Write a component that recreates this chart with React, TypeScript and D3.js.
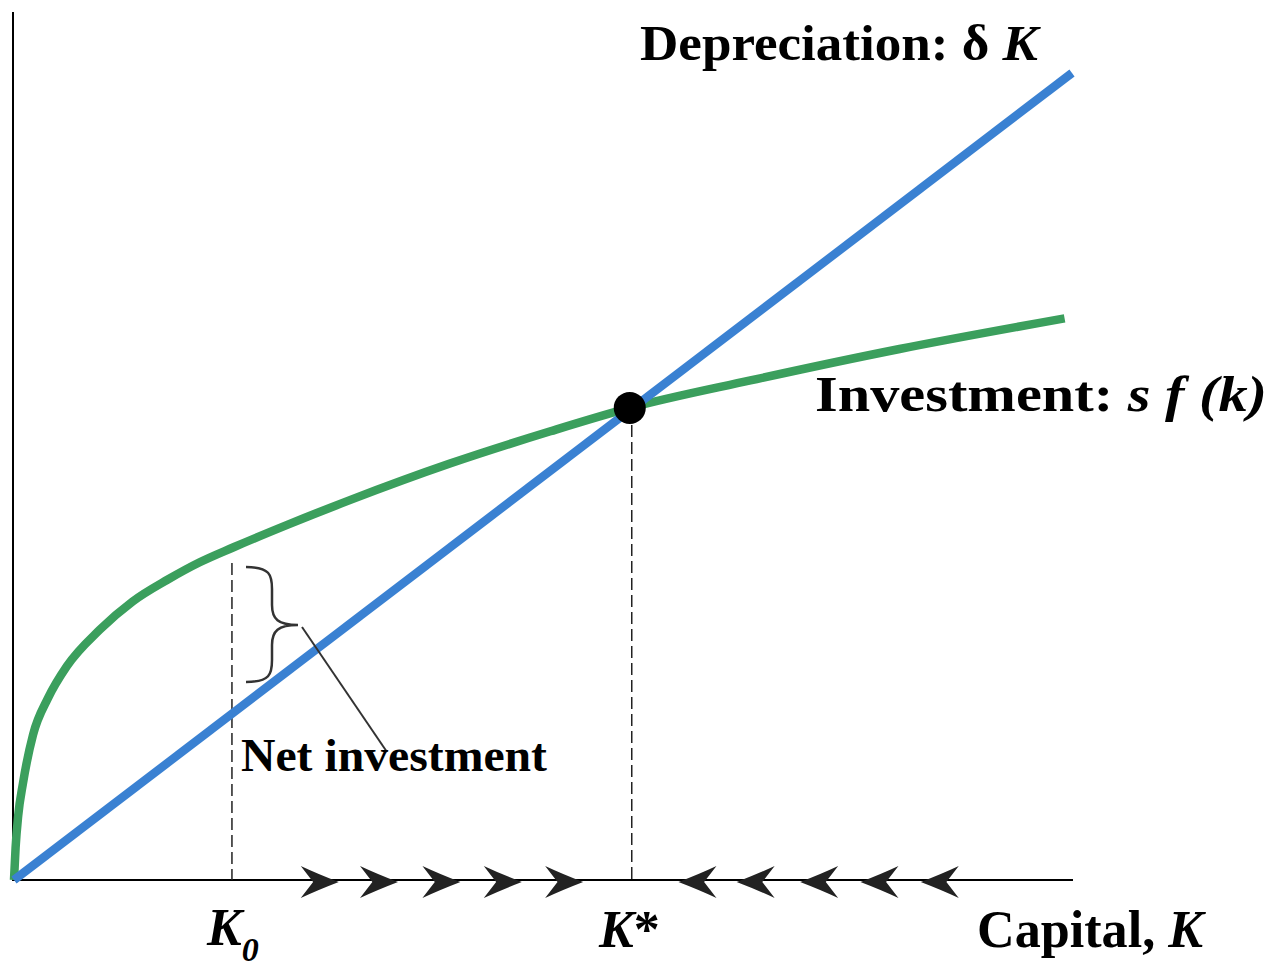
import { useEffect, useRef } from "react";
import * as d3 from "d3";

// capital stock (x) and amount (y), both on a 0..100 scale
const depreciationK = [0, 100];
const depreciationV = [0, 100];

const investmentK = [0, 0.15, 0.4, 0.85, 1.8, 3.2, 5.0, 8.1, 11.2, 14.5, 17.6, 20.7, 26.0, 31.8, 41.2, 50.7, 58.2, 69.6, 83.7, 99.3];
const investmentV = [0, 4.0, 8.0, 12.0, 18.0, 22.5, 26.5, 31.0, 34.5, 37.2, 39.4, 41.2, 44.1, 47.1, 51.6, 55.6, 58.5, 61.9, 65.8, 69.6];

const steadyK = 58.2;
const steadyV = 58.5;
const startK = 20.6;
const startV = 39.9;

const rightArrowK = [28.9, 34.5, 40.4, 46.2, 52.0];
const leftArrowK = [64.6, 70.1, 76.1, 81.8, 87.5];

const BLUE = "#3a81d2";
const GREEN = "#3b9f5d";
const FONT = "'Liberation Serif', 'Times New Roman', serif";

function SolowChart() {
    const svgRef = useRef<SVGSVGElement>(null);

    useEffect(() => {
        document.body.style.margin = "0";
        const svgEl = svgRef.current;
        if (!svgEl) return;

        const width = 1272;
        const height = 969;

        const xScale = d3.scaleLinear().domain([0, 100]).range([14, 1072]);
        const yScale = d3.scaleLinear().domain([0, 100]).range([880, 73]);

        d3.select(svgEl).selectAll("*").remove();
        const svg = d3.select(svgEl)
            .attr("width", width)
            .attr("height", height)
            .attr("viewBox", [0, 0, width, height].join(" "));

        const line = d3.line<[number, number]>()
            .x(d => xScale(d[0]))
            .y(d => yScale(d[1]));

        const curveLine = d3.line<[number, number]>()
            .x(d => xScale(d[0]))
            .y(d => yScale(d[1]))
            .curve(d3.curveMonotoneX);

        // axes
        svg.append("line")
            .attr("x1", 13).attr("x2", 13)
            .attr("y1", 12).attr("y2", yScale(0))
            .attr("stroke", "#000").attr("stroke-width", 2);
        svg.append("line")
            .attr("x1", 12).attr("x2", xScale(100) + 1)
            .attr("y1", yScale(0)).attr("y2", yScale(0))
            .attr("stroke", "#000").attr("stroke-width", 2);

        // dashed drop lines
        svg.append("line")
            .attr("x1", xScale(startK)).attr("x2", xScale(startK))
            .attr("y1", yScale(startV) + 5).attr("y2", yScale(0))
            .attr("stroke", "#222").attr("stroke-width", 1.5)
            .attr("stroke-dasharray", "12,5");
        svg.append("line")
            .attr("x1", xScale(steadyK) + 2).attr("x2", xScale(steadyK) + 2)
            .attr("y1", yScale(steadyV)).attr("y2", yScale(0))
            .attr("stroke", "#222").attr("stroke-width", 1.5)
            .attr("stroke-dasharray", "12,5");

        // investment curve
        const investPts = investmentK.map((k, i) => [k, investmentV[i]] as [number, number]);
        svg.append("path")
            .datum(investPts)
            .attr("d", curveLine)
            .attr("fill", "none")
            .attr("stroke", GREEN)
            .attr("stroke-width", 8.5);

        // depreciation line
        const deprPts = depreciationK.map((k, i) => [k, depreciationV[i]] as [number, number]);
        svg.append("path")
            .datum(deprPts)
            .attr("d", line)
            .attr("fill", "none")
            .attr("stroke", BLUE)
            .attr("stroke-width", 8.5);

        // steady state point
        svg.append("circle")
            .attr("cx", xScale(steadyK))
            .attr("cy", yScale(steadyV))
            .attr("r", 16)
            .attr("fill", "#000");

        // brace for net investment
        const L = 246, M = 272, T = 298, top = 567, mid = 625, bot = 682;
        svg.append("path")
            .attr("d", `M${L},${top} C${M - 2},${top} ${M},${top + 8} ${M},${top + 22} L${M},${mid - 20} C${M},${mid - 6} ${M + 6},${mid} ${T},${mid} C${M + 6},${mid} ${M},${mid + 6} ${M},${mid + 20} L${M},${bot - 22} C${M},${bot - 8} ${M - 2},${bot} ${L},${bot}`)
            .attr("fill", "none")
            .attr("stroke", "#333")
            .attr("stroke-width", 2.5);

        svg.append("line")
            .attr("x1", 302).attr("y1", 627)
            .attr("x2", 387).attr("y2", 752)
            .attr("stroke", "#333")
            .attr("stroke-width", 2);

        // direction arrows along the axis
        const hw = 19, hh = 16, ay = yScale(0) + 2;
        const rightChevron = `M${-hw},${-hh} Q${-hw * 0.1},${-hh * 0.5} ${hw},0 Q${-hw * 0.1},${hh * 0.5} ${-hw},${hh} L${-hw * 0.35},0 Z`;
        svg.append("g")
            .selectAll("path")
            .data(rightArrowK)
            .join("path")
            .attr("transform", d => `translate(${xScale(d)},${ay})`)
            .attr("d", rightChevron)
            .attr("fill", "#222");
        svg.append("g")
            .selectAll("path")
            .data(leftArrowK)
            .join("path")
            .attr("transform", d => `translate(${xScale(d)},${ay}) scale(-1,1)`)
            .attr("d", rightChevron)
            .attr("fill", "#222");

        // labels
        const addText = (x: number, y: number, size: number, len?: number) => {
            const t = svg.append("text")
                .attr("x", x)
                .attr("y", y)
                .attr("font-family", FONT)
                .attr("font-weight", "bold")
                .attr("font-size", `${size}px`)
                .attr("fill", "#000");
            if (len) {
                t.attr("textLength", len).attr("lengthAdjust", "spacingAndGlyphs");
            }
            return t;
        };

        const dep = addText(640, 60, 50, 398);
        dep.append("tspan").text("Depreciation: δ ");
        dep.append("tspan").attr("font-style", "italic").text("K");

        const inv = addText(815, 411, 51, 452);
        inv.append("tspan").text("Investment: ");
        inv.append("tspan").attr("font-style", "italic").text("s f (k)");

        addText(241, 771, 46, 306).text("Net investment");

        const cap = addText(977, 947, 52, 226);
        cap.append("tspan").text("Capital, ");
        cap.append("tspan").attr("font-style", "italic").text("K");

        const k0 = addText(207, 945, 52);
        k0.append("tspan").attr("font-style", "italic").text("K");
        k0.append("tspan").attr("font-style", "italic").attr("font-size", "34px").attr("dy", 16).text("0");

        const ks = addText(599, 947, 52);
        ks.append("tspan").attr("font-style", "italic").text("K");
        ks.append("tspan").text("*");
    }, []);

    return <svg ref={svgRef} style={{ position: "absolute", left: 0, top: 0, background: "#fff" }} />;
}

export default function App() {
    return (
        <div style={{ width: 1272, height: 969, position: "relative" }}>
            <SolowChart />
        </div>
    );
}
